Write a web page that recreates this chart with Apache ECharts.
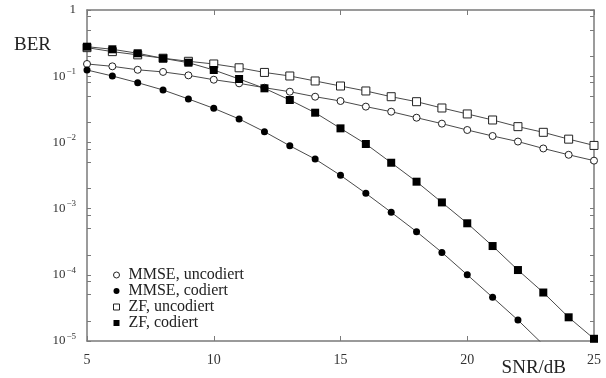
<!DOCTYPE html>
<html>
<head>
<meta charset="utf-8">
<script src="https://cdn.jsdelivr.net/npm/echarts@6/dist/echarts.min.js"></script>
<style>html,body{margin:0;padding:0;background:#fff}#c{width:606px;height:378px}</style>
</head>
<body>
<div id="c"></div>
<script>
const snr = [5,6,7,8,9,10,11,12,13,14,15,16,17,18,19,20,21,22,23,24,25];
const mmseUncoded = [0.153,0.141,0.125,0.116,0.103,0.0885,0.078,0.067,0.0583,0.049,0.0422,0.0347,0.0291,0.0236,0.0192,0.0154,0.0125,0.0103,0.0081,0.0065,0.0053];
const mmseCoded = [0.124,0.1007,0.0798,0.0619,0.0453,0.0327,0.0226,0.0145,0.0089,0.0056,0.00318,0.0017,0.00088,0.000448,0.000218,0.0001,0.0000457,0.0000207,0.0000088,null,null];
const zfUncoded = [0.27,0.235,0.21,0.187,0.168,0.153,0.134,0.114,0.1007,0.0847,0.0711,0.0598,0.049,0.0412,0.0331,0.0269,0.0218,0.0173,0.0142,0.0112,0.009];
const zfCoded = [0.279,0.255,0.222,0.186,0.16,0.124,0.0908,0.0656,0.0437,0.0281,0.0163,0.00946,0.00493,0.00255,0.00124,0.0006,0.000272,0.000118,0.000054,0.0000228,0.0000108];
const seriesNames = ['MMSE, uncodiert','MMSE, codiert','ZF, uncodiert','ZF, codiert'];
const xTicks = [5,10,15,20,25];
const yDecades = [1e-5,1e-4,1e-3,1e-2,1e-1,1];
const yMinorTicks = [];
yDecades.forEach(d => { yMinorTicks.push(d); if (d < 1) { yMinorTicks.push(2*d, 5*d, 8*d); } });

const FONT = '"Liberation Serif", "DejaVu Serif", serif';
const pair = arr => snr.map((x,i) => [x, arr[i]]);

const openStyle = {color:'#fff', borderColor:'#222', borderWidth:1};
const fillStyle = {color:'#000', borderColor:'#000', borderWidth:0};

function mkSeries(name, arr, symbol, size, style) {
  return {
    name, type:'line', data: pair(arr), symbol, symbolSize: size,
    showAllSymbol:true, connectNulls:false, clip:true,
    lineStyle:{color:'#4a4a4a', width:1}, itemStyle: style,
    emphasis:{disabled:true}, animation:false
  };
}

const axisLine = {show:true, lineStyle:{color:'#7a7a7a', width:1.5}};
const chart = echarts.init(document.getElementById('c'), null, {renderer:'canvas'});
chart.setOption({
  animation:false,
  backgroundColor:'#fff',
  grid:{left:87, right:12, top:10, bottom:37, containLabel:false},
  legend:{
    orient:'vertical', left:108, top:262, itemGap:0, itemWidth:6, itemHeight:6,
    textStyle:{fontFamily:FONT, fontSize:16, color:'#222', lineHeight:16, padding:[0,0,0,4]},
    data:[
      {name:seriesNames[0], icon:'circle', itemStyle:openStyle},
      {name:seriesNames[1], icon:'circle', itemStyle:fillStyle},
      {name:seriesNames[2], icon:'rect', itemStyle:openStyle},
      {name:seriesNames[3], icon:'rect', itemStyle:fillStyle}
    ]
  },
  xAxis:[
    {type:'value', min:5, max:25, interval:5, position:'bottom',
     name:'SNR/dB', nameLocation:'end', nameGap:-28,
     nameTextStyle:{fontFamily:FONT, fontSize:19, color:'#222', align:'right', verticalAlign:'top', padding:[18,0,0,0]},
     axisLine, axisTick:{show:true, inside:true, length:5, lineStyle:{color:'#7a7a7a'}},
     axisLabel:{fontFamily:FONT, fontSize:14, color:'#333', margin:12, customValues:xTicks},
     splitLine:{show:false}},
    {type:'value', min:5, max:25, interval:5, position:'top',
     axisLine, axisTick:{show:true, inside:true, length:5, lineStyle:{color:'#7a7a7a'}},
     axisLabel:{show:false}, splitLine:{show:false}}
  ],
  yAxis:[
    {type:'log', logBase:10, min:1e-5, max:1, position:'left',
     name:'BER', nameLocation:'end', nameGap:-35,
     nameTextStyle:{fontFamily:FONT, fontSize:19, color:'#222', align:'right', verticalAlign:'middle', padding:[0,36,0,0]},
     axisLine, axisTick:{show:true, inside:true, length:4, customValues:yMinorTicks, lineStyle:{color:'#7a7a7a'}},
     axisLabel:{customValues:yDecades, margin:11,
       formatter: v => { if (v >= 0.99) return '{b|1}'; const e = Math.round(Math.log10(v)); return '{b|10}{s|\u2212' + (-e) + '}'; },
       rich:{
         b:{fontFamily:FONT, fontSize:13, color:'#333', lineHeight:18, verticalAlign:'middle'},
         s:{fontFamily:FONT, fontSize:9, color:'#333', lineHeight:9, verticalAlign:'top', padding:[0,0,0,1]}
       }},
     splitLine:{show:false}},
    {type:'log', logBase:10, min:1e-5, max:1, position:'right',
     axisLine, axisTick:{show:true, inside:true, length:4, customValues:yMinorTicks, lineStyle:{color:'#7a7a7a'}},
     axisLabel:{show:false}, splitLine:{show:false}}
  ],
  series:[
    mkSeries(seriesNames[0], mmseUncoded, 'circle', 7, openStyle),
    mkSeries(seriesNames[1], mmseCoded, 'circle', 7, fillStyle),
    mkSeries(seriesNames[2], zfUncoded, 'rect', 8, openStyle),
    mkSeries(seriesNames[3], zfCoded, 'rect', 8, fillStyle)
  ]
});
</script>
</body>
</html>
